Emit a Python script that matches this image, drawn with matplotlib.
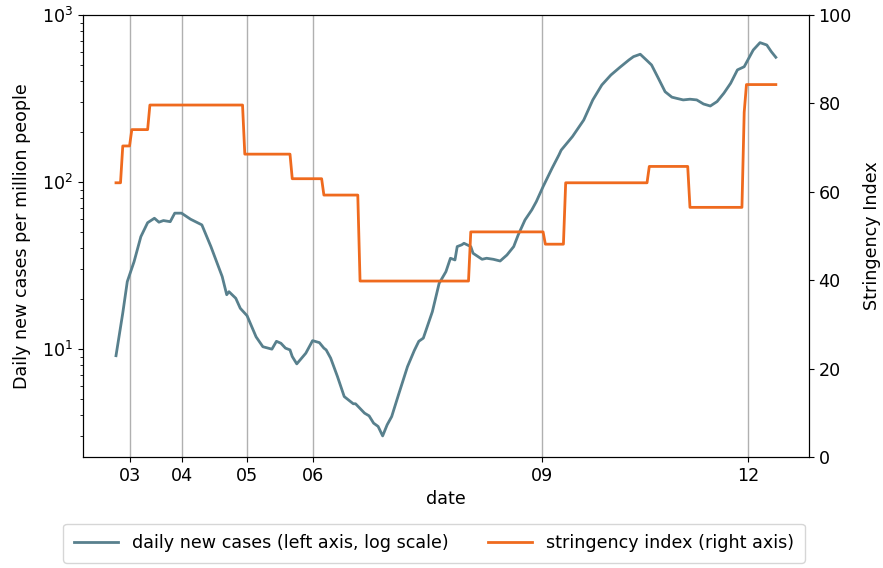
import matplotlib
matplotlib.use("Agg")
import matplotlib.pyplot as plt
import numpy as np

# daily new cases per million (7-day avg), day offsets from first record
DAYS = [0, 3, 5, 8, 11, 14, 17, 19, 21, 24,
        26, 29, 33, 38, 42, 47, 49, 50, 53, 55,
        58, 62, 65, 69, 71, 73, 75, 77, 78, 80,
        84, 87, 90, 92, 93, 95, 98, 101, 105, 106,
        110, 112, 114, 116, 118, 120, 122, 125, 129, 132,
        134, 136, 140, 143, 146, 148, 150, 151, 153, 154,
        157, 158, 162, 164, 167, 170, 173, 176, 178, 181,
        184, 186, 189, 193, 196, 197, 202, 207, 211, 215,
        219, 223, 227, 229, 232, 235, 237, 240, 243, 246,
        248, 251, 254, 257, 260, 263, 266, 269, 272, 275,
        278, 280, 282, 285, 288, 290, 292]
CASES = [9.1, 16.4, 25.3, 33.3, 47.0, 57.0, 60.6, 57.4, 58.7, 57.8,
         65.0, 65.0, 59.8, 55.3, 41.0, 27.1, 21.1, 22.0, 20.1, 17.5,
         15.8, 11.8, 10.3, 9.96, 11.1, 10.8, 10.1, 9.86, 9.0, 8.13,
         9.42, 11.2, 10.9, 10.1, 9.86, 8.80, 6.83, 5.18, 4.69, 4.69,
         4.12, 3.97, 3.59, 3.43, 3.01, 3.51, 3.93, 5.30, 7.83, 9.77,
         11.1, 11.6, 16.7, 24.7, 29.0, 34.9, 34.1, 41.0, 42.0, 42.9,
         41.0, 37.4, 34.4, 34.9, 34.4, 33.6, 36.5, 41.0, 48.2, 59.2,
         68.0, 76.2, 93.7, 121, 145, 155, 187, 235, 310, 381,
         437, 486, 538, 563, 582, 533, 502, 418, 347, 322,
         317, 310, 313, 310, 293, 285, 303, 340, 390, 469,
         490, 550, 617, 683, 661, 603, 558]

# stringency index: day on which each level starts, and the level
SI_START = [0, 3, 7, 15, 57, 78, 92, 108, 157, 190, 199, 236, 254, 278, 279]
SI_LEVEL = [62.04, 70.37, 74.07, 79.63, 68.52, 62.96, 59.26, 39.81,
            50.93, 48.15, 62.04, 65.74, 56.48, 78.0, 84.26]
LAST_DAY = 292

# month ticks
TICK_DAYS = [6.2, 29.3, 57.8, 87.2, 188.3, 279.6]
TICK_LABELS = ["03", "04", "05", "06", "09", "12"]

CASE_COLOR = "#58808d"
SI_COLOR = "#ef6a1e"


def main():
    plt.rcParams["font.size"] = 12.6

    si_days = np.arange(LAST_DAY + 1)
    lengths = np.diff(SI_START + [LAST_DAY + 1])
    si_vals = np.repeat(SI_LEVEL, lengths)

    fig = plt.figure(figsize=(8.83, 5.68), dpi=100)
    ax = fig.add_axes([0.094, 0.1954, 0.822, 0.7782])
    ax2 = ax.twinx()

    l1, = ax.plot(DAYS, CASES, color=CASE_COLOR, lw=2,
                  label="daily new cases (left axis, log scale)")
    l2, = ax2.plot(si_days, si_vals, color=SI_COLOR, lw=2,
                   label="stringency index (right axis)")

    ax.set_yscale("log")
    ax.set_ylim(2.25, 1000)
    ax2.set_ylim(0, 100)
    ax.set_xticks(TICK_DAYS)
    ax.set_xticklabels(TICK_LABELS)
    ax.grid(True, axis="x", color="#b0b0b0", lw=1)
    ax.set_xlabel("date")
    ax.set_ylabel("Daily new cases per million people", labelpad=8)
    ax2.set_ylabel("Stringency Index", labelpad=8)

    fig.legend(handles=[l1, l2], loc="lower center", ncol=2,
               bbox_to_anchor=(0.4915, -0.006), columnspacing=2.3,
               handlelength=2.5, borderpad=0.6)

    fig.savefig("out.png", dpi=100)


if __name__ == "__main__":
    main()
